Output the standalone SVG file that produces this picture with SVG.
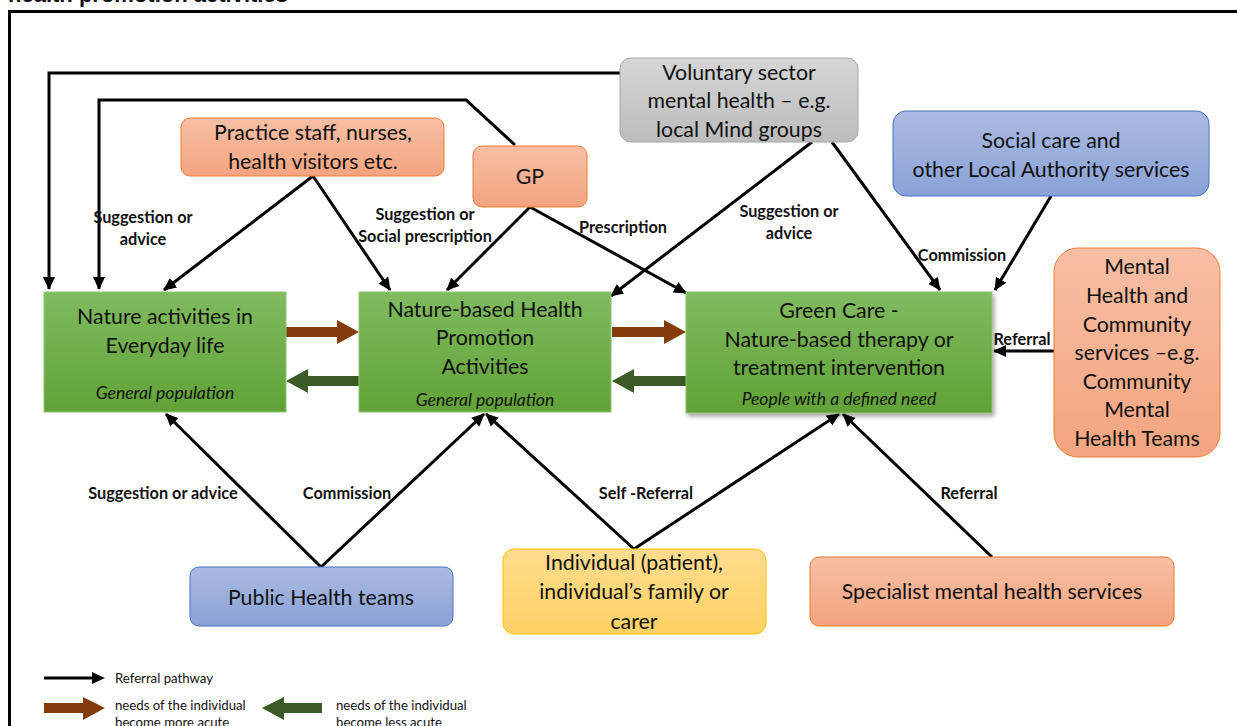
<svg xmlns="http://www.w3.org/2000/svg" width="1237" height="726" viewBox="0 0 1237 726">
<defs>
<linearGradient id="gGreen" x1="0" y1="0" x2="0" y2="1"><stop offset="0" stop-color="#80bb60"/><stop offset="1" stop-color="#60a237"/></linearGradient>
<linearGradient id="gSalmon" x1="0" y1="0" x2="0" y2="1"><stop offset="0" stop-color="#f7bfa5"/><stop offset="1" stop-color="#f4a47f"/></linearGradient>
<linearGradient id="gBlue" x1="0" y1="0" x2="0" y2="1"><stop offset="0" stop-color="#abbae2"/><stop offset="1" stop-color="#8aa2d6"/></linearGradient>
<linearGradient id="gGray" x1="0" y1="0" x2="0" y2="1"><stop offset="0" stop-color="#d6d6d6"/><stop offset="1" stop-color="#bcbcbc"/></linearGradient>
<linearGradient id="gYellow" x1="0" y1="0" x2="0" y2="1"><stop offset="0" stop-color="#ffdc8e"/><stop offset="1" stop-color="#ffd165"/></linearGradient>
<marker id="ah" markerWidth="14" markerHeight="14" refX="12" refY="7" orient="auto" markerUnits="userSpaceOnUse"><path d="M0,1 L13,7 L0,13 Z" fill="#000"/></marker>
<filter id="sh" x="-5%" y="-5%" width="115%" height="120%"><feDropShadow dx="2" dy="3" stdDeviation="2" flood-color="#000" flood-opacity="0.35"/></filter>
</defs>
<style>
text{font-family:"Lato","Liberation Sans",sans-serif;fill:#111}
.t{font-size:21.3px;text-anchor:middle}
.i{font-size:17.5px;font-style:italic;text-anchor:middle}
.l{font-size:16.3px;font-weight:bold;text-anchor:middle}
.lg{font-size:13.2px}
.green{fill:url(#gGreen);stroke:#8fc470;stroke-width:1}
.salmon{fill:url(#gSalmon);stroke:#ed7d31;stroke-width:1}
.blue{fill:url(#gBlue);stroke:#4472c4;stroke-width:1}
.gray{fill:url(#gGray);stroke:#a5a5a5;stroke-width:1}
.yellow{fill:url(#gYellow);stroke:#ffc000;stroke-width:1}
.c{fill:none;stroke:#000;stroke-width:3;marker-end:url(#ah)}
</style>
<rect width="1237" height="726" fill="#fff"/>
<text x="8" y="2" style="font-family:'Liberation Sans',sans-serif;font-size:22px;font-weight:bold">health promotion activities</text>
<path d="M9.5,740 L9.5,11.5 L1250,11.5" fill="none" stroke="#000" stroke-width="3"/>

<g id="connectors">
<path class="c" d="M620,73 L49,73 L49,289"/>
<path class="c" d="M515,145 L466,100 L99,100 L99,289"/>
<path class="c" d="M313,176 L164,290"/>
<path class="c" d="M313,176 L390,290"/>
<path class="c" d="M530,207 L447,290"/>
<path class="c" d="M530,207 L686,293"/>
<path class="c" d="M812,142 L611,296"/>
<path class="c" d="M832,142 L940,290"/>
<path class="c" d="M1051,196 L995,290"/>
<path class="c" d="M1054,351 L994,351"/>
<path class="c" d="M321,567 L166,414"/>
<path class="c" d="M321,567 L484,414"/>
<path class="c" d="M634,549 L486,414"/>
<path class="c" d="M634,549 L839,414"/>
<path class="c" d="M992,557 L843,414"/>
<path d="M286,327 L337,327 L337,320 L359,332 L337,344 L337,337 L286,337 Z" fill="#843c0c"/>
<path d="M359,376 L308,376 L308,369 L286,381 L308,393 L308,386 L359,386 Z" fill="#3b5a26"/>
<path d="M612,327 L664,327 L664,320 L686,332 L664,344 L664,337 L612,337 Z" fill="#843c0c"/>
<path d="M686,376 L634,376 L634,369 L612,381 L634,393 L634,386 L686,386 Z" fill="#3b5a26"/>
<text class="l" x="143" y="223">Suggestion or</text>
<text class="l" x="143" y="245">advice</text>
<text class="l" x="425" y="220">Suggestion or</text>
<text class="l" x="425" y="242">Social prescription</text>
<text class="l" x="623" y="233">Prescription</text>
<text class="l" x="789" y="217">Suggestion or</text>
<text class="l" x="789" y="239">advice</text>
<text class="l" x="962" y="261">Commission</text>
<text class="l" x="1022" y="345">Referral</text>
<text class="l" x="163" y="499">Suggestion or advice</text>
<text class="l" x="347" y="499">Commission</text>
<text class="l" x="646" y="499">Self -Referral</text>
<text class="l" x="969" y="499">Referral</text>
</g>

<g id="voluntary">
<rect class="gray" x="620" y="58" width="238" height="84" rx="11"/>
<text class="t" x="739" y="80">Voluntary sector</text>
<text class="t" x="739" y="108">mental health – e.g.</text>
<text class="t" x="739" y="137">local Mind groups</text>
</g>
<g id="practice">
<rect class="salmon" x="181" y="118" width="263" height="58" rx="9"/>
<text class="t" x="313" y="140">Practice staff, nurses,</text>
<text class="t" x="313" y="169">health visitors etc.</text>
</g>
<g id="gp">
<rect class="salmon" x="473" y="146" width="114" height="61" rx="9"/>
<text class="t" x="530" y="184">GP</text>
</g>
<g id="socialcare">
<rect class="blue" x="893" y="111" width="316" height="85" rx="13"/>
<text class="t" x="1051" y="148">Social care and</text>
<text class="t" x="1051" y="177">other Local Authority services</text>
</g>
<g id="mentalhealth">
<rect class="salmon" x="1054" y="248" width="166" height="209" rx="24"/>
<text class="t" x="1137" y="274">Mental</text>
<text class="t" x="1137" y="303">Health and</text>
<text class="t" x="1137" y="332">Community</text>
<text class="t" x="1137" y="360">services –e.g.</text>
<text class="t" x="1137" y="389">Community</text>
<text class="t" x="1137" y="417">Mental</text>
<text class="t" x="1137" y="446">Health Teams</text>
</g>
<g id="everyday">
<rect class="green" x="44" y="292" width="242" height="120"/>
<text class="t" x="165" y="324">Nature activities in</text>
<text class="t" x="165" y="353">Everyday life</text>
<text class="i" x="165" y="399">General population</text>
</g>
<g id="healthpromotion">
<rect class="green" x="359" y="292" width="252" height="120"/>
<text class="t" x="485" y="317">Nature-based Health</text>
<text class="t" x="485" y="345">Promotion</text>
<text class="t" x="485" y="374">Activities</text>
<text class="i" x="485" y="406">General population</text>
</g>
<g id="greencare">
<rect class="green" x="686" y="292" width="306" height="121" filter="url(#sh)"/>
<text class="t" x="839" y="318">Green Care -</text>
<text class="t" x="839" y="347">Nature-based therapy or</text>
<text class="t" x="839" y="375">treatment intervention</text>
<text class="i" x="839" y="405">People with a defined need</text>
</g>
<g id="publichealth">
<rect class="blue" x="190" y="567" width="263" height="59" rx="9"/>
<text class="t" x="321" y="605">Public Health teams</text>
</g>
<g id="individual">
<rect class="yellow" x="503" y="549" width="263" height="85" rx="11"/>
<text class="t" x="634" y="570">Individual (patient),</text>
<text class="t" x="634" y="599">individual’s family or</text>
<text class="t" x="634" y="629">carer</text>
</g>
<g id="specialist">
<rect class="salmon" x="810" y="557" width="364" height="69" rx="9"/>
<text class="t" x="992" y="599">Specialist mental health services</text>
</g>

<g id="legend">
<path d="M44,678 L93,678" stroke="#000" stroke-width="3"/>
<path d="M92,672 L105,678 L92,684 Z" fill="#000"/>
<text class="lg" x="115" y="683">Referral pathway</text>
<path d="M44,703 L83,703 L83,697 L105,708 L83,720 L83,713 L44,713 Z" fill="#843c0c"/>
<text class="lg" x="115" y="710">needs of the individual</text>
<text class="lg" x="115" y="727">become more acute</text>
<path d="M322,703 L284,703 L284,697 L262,708 L284,720 L284,713 L322,713 Z" fill="#3b5a26"/>
<text class="lg" x="336" y="710">needs of the individual</text>
<text class="lg" x="336" y="727">become less acute</text>
</g>
</svg>
